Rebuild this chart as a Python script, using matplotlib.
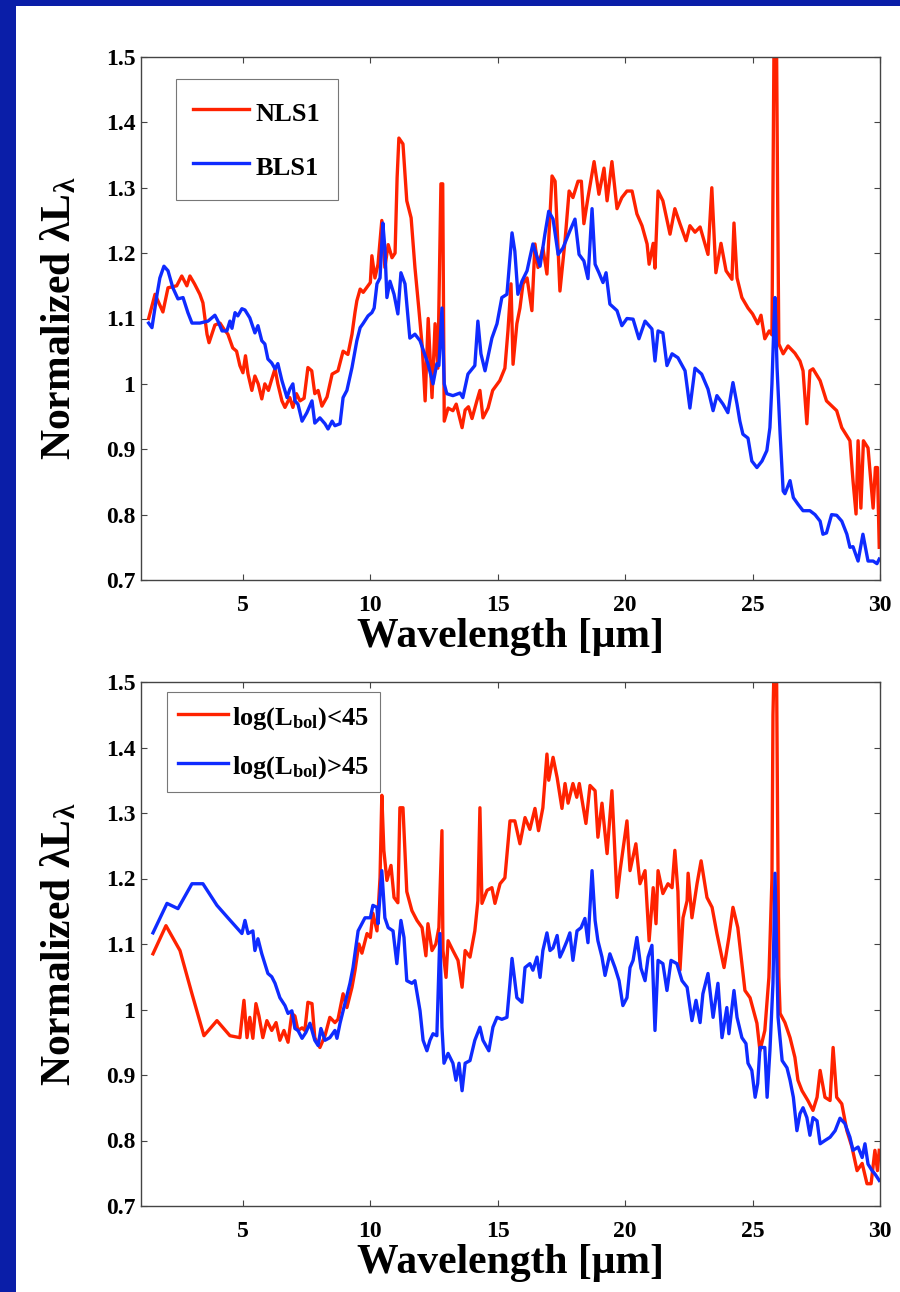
import matplotlib
matplotlib.use('Agg')
import matplotlib.pyplot as plt
from matplotlib.patches import Rectangle

plt.rcParams['font.family'] = ['Liberation Serif', 'DejaVu Serif']
plt.rcParams['font.weight'] = 'bold'
plt.rcParams['axes.labelweight'] = 'bold'
plt.rcParams['mathtext.fontset'] = 'custom'
plt.rcParams['mathtext.rm'] = 'Liberation Serif:bold'
plt.rcParams['mathtext.it'] = 'Liberation Serif:bold'
plt.rcParams['mathtext.bf'] = 'Liberation Serif:bold'
plt.rcParams['mathtext.default'] = 'rm'

RED = '#ff2200'
BLUE = '#0f2bff'
FRAME_BLUE = '#0a1ea8'

# --- upper panel: NLS1 vs BLS1 ---
nls1_x = [1.3, 1.55, 1.86, 2.06, 2.4, 2.6, 2.8, 2.92, 3.1, 3.31, 3.43, 3.59, 3.67, 3.9,
          4.1, 4.25, 4.41, 4.6, 4.75, 4.88, 5.0, 5.1, 5.2, 5.35, 5.47, 5.6, 5.74, 5.86,
          6.0, 6.13, 6.26, 6.37, 6.53, 6.65, 6.84, 6.96, 7.1, 7.24, 7.4, 7.55, 7.7, 7.82,
          7.95, 8.1, 8.3, 8.5, 8.73, 8.93, 9.12, 9.28, 9.4, 9.47, 9.6, 9.72, 9.87, 10.0,
          10.06, 10.18, 10.3, 10.45, 10.57, 10.7, 10.85, 10.97, 11.05, 11.12, 11.28, 11.43,
          11.6, 11.75, 11.9, 12.04, 12.15, 12.27, 12.42, 12.54, 12.65, 12.77, 12.84, 12.9,
          13.05, 13.24, 13.37, 13.6, 13.72, 13.85, 13.99, 14.18, 14.3, 14.42, 14.62, 14.8,
          15.08, 15.28, 15.4, 15.52, 15.6, 15.75, 15.87, 15.99, 16.15, 16.34, 16.46, 16.58,
          16.77, 16.93, 17.13, 17.25, 17.44, 17.64, 17.8, 17.95, 18.15, 18.28, 18.38, 18.54,
          18.78, 18.97, 19.17, 19.29, 19.48, 19.68, 19.87, 20.07, 20.27, 20.46, 20.66,
          20.86, 20.94, 21.1, 21.17, 21.29, 21.48, 21.76, 21.95, 22.15, 22.39, 22.54, 22.74,
          22.94, 23.13, 23.25, 23.4, 23.56, 23.76, 23.96, 24.19, 24.27, 24.39, 24.58, 24.82,
          25.0, 25.2, 25.33, 25.48, 25.65, 25.76, 25.8, 25.84, 25.94, 25.98, 26.03, 26.2,
          26.39, 26.66, 26.86, 26.98, 27.13, 27.25, 27.37, 27.65, 27.9, 28.3, 28.5, 28.82,
          28.94, 29.06, 29.14, 29.25, 29.35, 29.53, 29.73, 29.82, 29.9, 29.97]
nls1_y = [1.1, 1.137, 1.11, 1.147, 1.15, 1.165, 1.15, 1.165, 1.153, 1.137, 1.124, 1.076,
          1.063, 1.09, 1.093, 1.084, 1.076, 1.055, 1.05, 1.028, 1.017, 1.043, 1.015, 0.99,
          1.012, 1.0, 0.977, 1.0, 0.99, 1.007, 1.023, 1.0, 0.974, 0.964, 0.979, 0.964, 0.985,
          0.974, 0.978, 1.025, 1.02, 0.985, 0.99, 0.966, 0.98, 1.015, 1.02, 1.05, 1.045,
          1.076, 1.11, 1.127, 1.145, 1.14, 1.148, 1.155, 1.196, 1.162, 1.183, 1.25, 1.178,
          1.213, 1.193, 1.2, 1.315, 1.376, 1.367, 1.28, 1.254, 1.178, 1.116, 1.055, 0.974,
          1.1, 0.979, 1.092, 1.024, 1.306, 1.306, 0.943, 0.963, 0.959, 0.969, 0.933, 0.96,
          0.965, 0.947, 0.974, 0.99, 0.948, 0.963, 0.99, 1.005, 1.024, 1.081, 1.153, 1.03,
          1.092, 1.116, 1.153, 1.162, 1.112, 1.214, 1.178, 1.208, 1.168, 1.318, 1.31, 1.142,
          1.219, 1.295, 1.285, 1.31, 1.31, 1.245, 1.285, 1.34, 1.29, 1.33, 1.28, 1.34, 1.268,
          1.285, 1.295, 1.295, 1.26, 1.242, 1.214, 1.183, 1.215, 1.177, 1.295, 1.28, 1.229,
          1.268, 1.245, 1.219, 1.242, 1.232, 1.24, 1.214, 1.198, 1.3, 1.17, 1.215, 1.173,
          1.16, 1.246, 1.162, 1.132, 1.116, 1.107, 1.092, 1.105, 1.069, 1.081, 1.075, 1.3,
          1.52, 1.52, 1.3, 1.061, 1.046, 1.058, 1.047, 1.035, 1.02, 0.939, 1.02, 1.023, 1.005,
          0.974, 0.959, 0.933, 0.913, 0.852, 0.801, 0.913, 0.81, 0.913, 0.902, 0.81, 0.872,
          0.872, 0.75]

bls1_x = [1.3, 1.43, 1.55, 1.63, 1.74, 1.9, 2.06, 2.25, 2.45, 2.65, 2.84, 3.0, 3.31, 3.63,
          3.9, 4.02, 4.18, 4.37, 4.49, 4.57, 4.69, 4.8, 4.96, 5.08, 5.27, 5.47, 5.59, 5.74,
          5.86, 5.98, 6.13, 6.26, 6.37, 6.53, 6.73, 6.84, 6.96, 7.04, 7.16, 7.32, 7.51,
          7.71, 7.82, 8.02, 8.22, 8.34, 8.5, 8.61, 8.81, 8.93, 9.08, 9.28, 9.47, 9.6, 9.71,
          9.91, 10.06, 10.15, 10.26, 10.38, 10.49, 10.57, 10.65, 10.77, 10.93, 11.08, 11.2,
          11.36, 11.55, 11.75, 11.95, 12.26, 12.46, 12.61, 12.69, 12.81, 12.9, 13.0, 13.24,
          13.52, 13.63, 13.83, 14.1, 14.22, 14.34, 14.5, 14.77, 14.97, 15.16, 15.36, 15.56,
          15.67, 15.79, 15.95, 16.15, 16.26, 16.38, 16.66, 16.85, 17.0, 17.17, 17.37, 17.56,
          17.83, 18.03, 18.19, 18.38, 18.54, 18.7, 18.82, 18.97, 19.13, 19.25, 19.4, 19.68,
          19.87, 20.07, 20.31, 20.54, 20.78, 21.05, 21.17, 21.29, 21.48, 21.64, 21.84,
          22.07, 22.35, 22.54, 22.74, 23.0, 23.25, 23.45, 23.6, 23.84, 24.03, 24.23, 24.39,
          24.5, 24.62, 24.82, 24.97, 25.17, 25.37, 25.56, 25.68, 25.76, 25.84, 25.88, 25.96,
          26.08, 26.2, 26.27, 26.47, 26.6, 26.78, 26.98, 27.25, 27.45, 27.65, 27.76, 27.9,
          28.1, 28.3, 28.5, 28.7, 28.82, 28.94, 29.14, 29.33, 29.53, 29.73, 29.88, 29.97]
bls1_y = [1.093, 1.086, 1.116, 1.137, 1.162, 1.18, 1.173, 1.147, 1.13, 1.132, 1.109, 1.093,
          1.093, 1.096, 1.105, 1.096, 1.081, 1.081, 1.096, 1.085, 1.109, 1.104, 1.115, 1.113,
          1.101, 1.078, 1.089, 1.066, 1.061, 1.038, 1.032, 1.023, 1.031, 1.005, 0.979, 0.992,
          1.0, 0.974, 0.969, 0.943, 0.956, 0.974, 0.94, 0.948, 0.939, 0.931, 0.943, 0.936,
          0.939, 0.979, 0.99, 1.025, 1.066, 1.086, 1.092, 1.104, 1.109, 1.116, 1.153, 1.162,
          1.246, 1.208, 1.132, 1.157, 1.137, 1.107, 1.17, 1.153, 1.07, 1.076, 1.066, 1.031,
          1.0, 1.031, 1.028, 1.116, 1.0, 0.985, 0.982, 0.986, 0.979, 1.015, 1.028, 1.096,
          1.046, 1.02, 1.07, 1.092, 1.132, 1.137, 1.231, 1.203, 1.137, 1.157, 1.173, 1.193,
          1.214, 1.18, 1.229, 1.264, 1.252, 1.198, 1.208, 1.234, 1.252, 1.198, 1.188, 1.161,
          1.268, 1.183, 1.17, 1.155, 1.17, 1.122, 1.112, 1.089, 1.1, 1.099, 1.069, 1.096,
          1.084, 1.035, 1.081, 1.078, 1.028, 1.046, 1.04, 1.02, 0.963, 1.024, 1.015, 0.992,
          0.959, 0.982, 0.969, 0.956, 1.002, 0.969, 0.943, 0.923, 0.917, 0.882, 0.872, 0.882,
          0.898, 0.933, 1.0, 1.096, 1.132, 1.025, 0.924, 0.836, 0.832, 0.852, 0.826, 0.816,
          0.806, 0.806, 0.8, 0.79, 0.77, 0.772, 0.8, 0.799, 0.79, 0.77, 0.75, 0.751, 0.729,
          0.77, 0.729, 0.729, 0.725, 0.732]

# --- lower panel: split by bolometric luminosity ---
low_x = [1.47, 1.98, 2.53, 3.0, 3.47, 3.98, 4.49, 4.88, 5.04, 5.16, 5.27, 5.39, 5.51, 5.63,
         5.78, 5.94, 6.13, 6.3, 6.45, 6.61, 6.77, 6.92, 7.04, 7.16, 7.32, 7.43, 7.55, 7.71,
         7.82, 8.02, 8.22, 8.41, 8.61, 8.73, 8.93, 9.08, 9.28, 9.4, 9.55, 9.67, 9.87, 10.0,
         10.1, 10.26, 10.38, 10.45, 10.53, 10.65, 10.81, 10.93, 11.08, 11.16, 11.28, 11.43,
         11.63, 11.83, 12.03, 12.18, 12.26, 12.42, 12.57, 12.69, 12.81, 12.85, 12.97, 13.05,
         13.24, 13.44, 13.6, 13.72, 13.91, 14.1, 14.22, 14.3, 14.38, 14.58, 14.77, 14.89,
         15.09, 15.28, 15.48, 15.67, 15.87, 16.07, 16.26, 16.46, 16.6, 16.77, 16.93, 17.0,
         17.17, 17.33, 17.52, 17.64, 17.76, 17.95, 18.1, 18.2, 18.46, 18.62, 18.82, 18.93,
         19.09, 19.29, 19.48, 19.68, 19.8, 20.07, 20.19, 20.42, 20.58, 20.78, 20.94, 21.1,
         21.21, 21.29, 21.48, 21.68, 21.84, 21.95, 22.07, 22.15, 22.27, 22.43, 22.47, 22.62,
         22.82, 22.98, 23.21, 23.41, 23.6, 23.88, 24.07, 24.23, 24.42, 24.7, 24.9, 25.17,
         25.29, 25.48, 25.64, 25.76, 25.8, 25.84, 25.94, 25.98, 26.03, 26.08, 26.27, 26.47,
         26.66, 26.78, 26.94, 27.17, 27.37, 27.53, 27.65, 27.84, 28.04, 28.16, 28.3, 28.5,
         28.7, 28.9, 29.1, 29.3, 29.49, 29.65, 29.8, 29.9, 29.97]
low_y = [1.085, 1.128, 1.09, 1.024, 0.96, 0.983, 0.96, 0.957, 1.014, 0.957, 0.988, 0.956,
         1.009, 0.99, 0.957, 0.983, 0.968, 0.98, 0.953, 0.968, 0.95, 0.994, 0.99, 0.968,
         0.972, 0.968, 1.011, 1.009, 0.957, 0.942, 0.96, 0.988, 0.98, 0.985, 1.024, 1.003,
         1.034, 1.06, 1.1, 1.086, 1.116, 1.11, 1.147, 1.12, 1.201, 1.327, 1.243, 1.197, 1.22,
         1.171, 1.163, 1.308, 1.308, 1.18, 1.151, 1.136, 1.125, 1.082, 1.131, 1.09, 1.1, 1.125,
         1.273, 1.09, 1.049, 1.105, 1.09, 1.075, 1.034, 1.09, 1.08, 1.12, 1.166, 1.308, 1.162,
         1.182, 1.186, 1.162, 1.192, 1.201, 1.288, 1.288, 1.253, 1.293, 1.275, 1.307, 1.273,
         1.308, 1.39, 1.35, 1.385, 1.354, 1.307, 1.345, 1.315, 1.345, 1.324, 1.345, 1.284,
         1.342, 1.334, 1.263, 1.315, 1.238, 1.334, 1.171, 1.212, 1.288, 1.212, 1.253, 1.192,
         1.212, 1.105, 1.186, 1.131, 1.212, 1.177, 1.192, 1.186, 1.243, 1.18, 1.06, 1.14,
         1.166, 1.208, 1.14, 1.192, 1.227, 1.171, 1.156, 1.116, 1.064, 1.11, 1.156, 1.125,
         1.029, 1.018, 0.979, 0.937, 0.968, 1.049, 1.2, 1.45, 1.52, 1.52, 1.3, 1.05, 0.994,
         0.98, 0.957, 0.927, 0.892, 0.876, 0.861, 0.846, 0.866, 0.907, 0.866, 0.861, 0.942,
         0.866, 0.856, 0.815, 0.79, 0.754, 0.765, 0.734, 0.734, 0.785, 0.754, 0.785]

high_x = [1.47, 2.02, 2.45, 3.0, 3.43, 3.98, 4.41, 4.96, 5.08, 5.2, 5.39, 5.47, 5.59, 5.74,
          5.94, 5.98, 6.13, 6.26, 6.45, 6.65, 6.77, 6.92, 7.04, 7.16, 7.32, 7.47, 7.63, 7.82,
          7.95, 8.06, 8.22, 8.41, 8.61, 8.69, 8.81, 9.0, 9.2, 9.32, 9.52, 9.79, 10.0, 10.1,
          10.26, 10.3, 10.45, 10.57, 10.7, 10.89, 11.04, 11.2, 11.32, 11.43, 11.63, 11.75,
          11.95, 12.07, 12.22, 12.34, 12.46, 12.61, 12.73, 12.81, 12.89, 13.05, 13.24, 13.36,
          13.48, 13.6, 13.72, 13.91, 14.1, 14.3, 14.42, 14.65, 14.81, 14.97, 15.16, 15.36,
          15.48, 15.56, 15.75, 15.95, 16.07, 16.26, 16.38, 16.54, 16.66, 16.77, 16.93, 17.05,
          17.17, 17.33, 17.44, 17.56, 17.72, 17.83, 17.95, 18.11, 18.27, 18.42, 18.54, 18.7,
          18.82, 18.93, 19.09, 19.21, 19.4, 19.6, 19.76, 19.91, 20.07, 20.19, 20.31, 20.46,
          20.62, 20.78, 20.9, 21.05, 21.17, 21.29, 21.48, 21.64, 21.8, 22.03, 22.23, 22.43,
          22.62, 22.78, 22.94, 23.05, 23.25, 23.45, 23.64, 23.8, 23.99, 24.07, 24.27, 24.39,
          24.58, 24.74, 24.82, 24.97, 25.1, 25.2, 25.29, 25.48, 25.57, 25.68, 25.8, 25.88,
          26.0, 26.16, 26.35, 26.47, 26.6, 26.74, 26.86, 26.98, 27.13, 27.25, 27.37, 27.53,
          27.65, 27.84, 28.04, 28.24, 28.43, 28.62, 28.82, 28.94, 29.14, 29.3, 29.41, 29.53,
          29.69, 29.8, 29.97]
high_y = [1.117, 1.162, 1.154, 1.192, 1.192, 1.159, 1.14, 1.116, 1.136, 1.116, 1.12, 1.09,
          1.108, 1.085, 1.06, 1.055, 1.05, 1.04, 1.018, 1.006, 0.994, 0.998, 0.971, 0.968,
          0.956, 0.965, 0.979, 0.953, 0.945, 0.971, 0.953, 0.957, 0.968, 0.956, 0.979, 1.009,
          1.04, 1.064, 1.12, 1.14, 1.14, 1.159, 1.156, 1.131, 1.212, 1.14, 1.125, 1.12, 1.07,
          1.136, 1.11, 1.044, 1.04, 1.044, 0.998, 0.953, 0.937, 0.953, 0.963, 0.96, 1.116,
          0.973, 0.918, 0.933, 0.918, 0.892, 0.918, 0.876, 0.918, 0.922, 0.953, 0.973, 0.953,
          0.937, 0.973, 0.988, 0.985, 0.988, 1.04, 1.078, 1.018, 1.011, 1.064, 1.07, 1.06,
          1.08, 1.049, 1.09, 1.117, 1.09, 1.094, 1.113, 1.08, 1.09, 1.105, 1.117, 1.075, 1.12,
          1.125, 1.139, 1.102, 1.212, 1.136, 1.105, 1.08, 1.052, 1.085, 1.064, 1.044, 1.006,
          1.018, 1.064, 1.075, 1.11, 1.063, 1.044, 1.08, 1.098, 0.968, 1.075, 1.07, 1.029,
          1.075, 1.07, 1.044, 1.034, 0.983, 1.014, 0.98, 1.024, 1.055, 0.988, 1.04, 0.957,
          1.003, 0.963, 1.029, 0.988, 0.957, 0.948, 0.918, 0.907, 0.866, 0.887, 0.942, 0.942,
          0.866, 0.937, 1.04, 1.208, 0.988, 0.922, 0.911, 0.892, 0.866, 0.815, 0.841, 0.85,
          0.835, 0.808, 0.835, 0.83, 0.795, 0.8, 0.805, 0.815, 0.834, 0.826, 0.805, 0.785,
          0.79, 0.774, 0.795, 0.764, 0.754, 0.749, 0.739]

x_ticks = [5, 10, 15, 20, 25, 30]
y_ticks = [0.7, 0.8, 0.9, 1.0, 1.1, 1.2, 1.3, 1.4, 1.5]
y_ticklabels = ['0.7', '0.8', '0.9', '1', '1.1', '1.2', '1.3', '1.4', '1.5']

W, H = 900, 1292
fig = plt.figure(figsize=(W / 100, H / 100), dpi=100, facecolor='white')

# dark blue slide border along the left and top edges
fig.patches.append(Rectangle((0, 0), 16 / W, 1, transform=fig.transFigure,
                             facecolor=FRAME_BLUE, edgecolor='none', zorder=0))
fig.patches.append(Rectangle((0, 1 - 6 / H), 1, 6 / H, transform=fig.transFigure,
                             facecolor=FRAME_BLUE, edgecolor='none', zorder=0))


def style_axes(ax):
    ax.set_xlim(1, 30)
    ax.set_ylim(0.7, 1.5)
    ax.set_xticks(x_ticks)
    ax.set_yticks(y_ticks)
    ax.set_yticklabels(y_ticklabels)
    ax.tick_params(direction='in', top=True, right=True, length=4.5, width=0.8,
                   color='#444444', labelsize=17)
    ax.tick_params(axis='x', pad=11)
    ax.tick_params(axis='y', pad=4)
    for sp in ax.spines.values():
        sp.set_color('#444444')
        sp.set_linewidth(1.0)
    ax.set_xlabel('Wavelength [\u03bcm]', fontsize=30, labelpad=1)
    ax.set_ylabel('Normalized \u03bbL$_{\u03bb}$', fontsize=30, labelpad=19)


def style_legend(leg):
    leg.get_frame().set_edgecolor('#555555')
    leg.get_frame().set_linewidth(0.8)


ax1 = fig.add_axes([141 / W, 1 - 580 / H, 739 / W, 523 / H])
ax1.plot(nls1_x, nls1_y, color=RED, lw=2.4, label='NLS1')
ax1.plot(bls1_x, bls1_y, color=BLUE, lw=2.4, label='BLS1')
style_axes(ax1)
leg1 = ax1.legend(loc='upper left', bbox_to_anchor=(0.047, 0.958), borderaxespad=0,
                  fontsize=19, fancybox=False, handlelength=2.1, handletextpad=0.28,
                  handleheight=1.5, labelspacing=0.82, borderpad=0.66)
style_legend(leg1)

ax2 = fig.add_axes([141 / W, 1 - 1206 / H, 739 / W, 524 / H])
ax2.plot(low_x, low_y, color=RED, lw=2.4, label='log(L$_{bol}$)<45')
ax2.plot(high_x, high_y, color=BLUE, lw=2.4, label='log(L$_{bol}$)>45')
style_axes(ax2)
leg2 = ax2.legend(loc='upper left', bbox_to_anchor=(0.035, 0.981), borderaxespad=0,
                  fontsize=19, fancybox=False, handlelength=1.9, handletextpad=0.15,
                  handleheight=1.1, labelspacing=0.75, borderpad=0.42)
style_legend(leg2)

fig.savefig('out.png', dpi=100, facecolor='white')
